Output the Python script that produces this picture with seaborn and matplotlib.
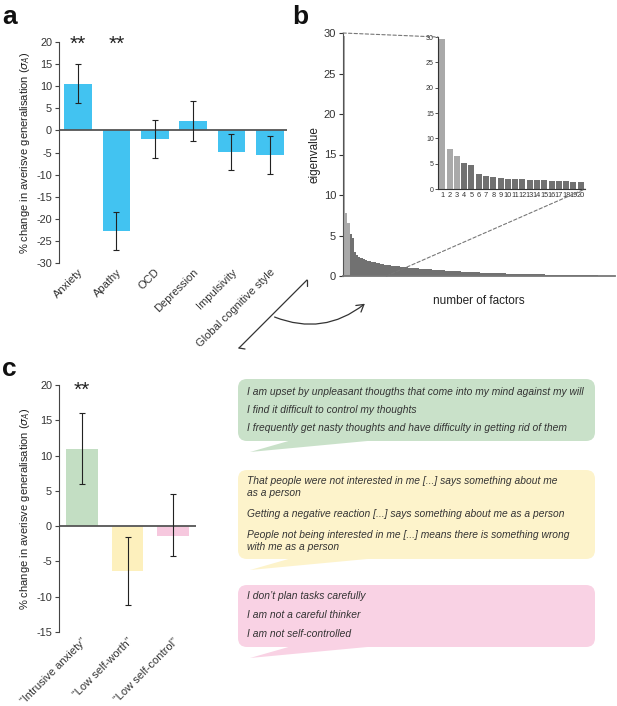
import seaborn as sns
import matplotlib.pyplot as plt
from matplotlib.patches import FancyBboxPatch, Polygon, FancyArrowPatch, ConnectionPatch
from matplotlib.lines import Line2D

# panel a: symptom dimensions
traits = ["Anxiety", "Apathy", "OCD", "Depression", "Impulsivity", "Global cognitive style"]
trait_change = [10.6, -22.8, -2.0, 2.1, -4.8, -5.6]
trait_err = [4.5, 4.25, 4.3, 4.5, 4.05, 4.3]
trait_stars = ["**", "**", "", "", "", ""]

# panel b: eigenvalues (first 20 shown in inset)
eig_top = [29.6, 7.8, 6.6, 5.2, 4.7, 3.0, 2.6, 2.35, 2.2, 2.05,
           1.95, 1.9, 1.8, 1.75, 1.68, 1.6, 1.58, 1.5, 1.45, 1.4]
eig_tail = [1.35, 1.32, 1.28, 1.25, 1.21, 1.18, 1.15, 1.12, 1.09, 1.06,
            1.03, 1.00, 0.98, 0.95, 0.93, 0.91, 0.89, 0.87, 0.85, 0.83,
            0.81, 0.79, 0.77, 0.75, 0.73, 0.71, 0.69, 0.67, 0.65, 0.63,
            0.61, 0.59, 0.58, 0.56, 0.55, 0.53, 0.52, 0.50, 0.49, 0.48,
            0.46, 0.45, 0.44, 0.43, 0.41, 0.40, 0.39, 0.38, 0.37, 0.36,
            0.35, 0.34, 0.33, 0.32, 0.31, 0.30, 0.30, 0.29, 0.28, 0.27,
            0.27, 0.26, 0.25, 0.25, 0.24, 0.23, 0.23, 0.22, 0.21, 0.21,
            0.20, 0.19, 0.19, 0.18, 0.17, 0.17, 0.16, 0.16, 0.15, 0.15,
            0.14, 0.13, 0.13, 0.12, 0.12, 0.11, 0.11, 0.10, 0.10, 0.09,
            0.09, 0.08, 0.08, 0.08, 0.07, 0.07, 0.07, 0.06, 0.06, 0.06,
            0.05, 0.05, 0.05, 0.04, 0.04]
eigenvalues = eig_top + eig_tail
n_light = 3

# panel c: transdiagnostic factors
factors = ["\u201cIntrusive anxiety\u201d", "\u201cLow self-worth\u201d", "\u201cLow self-control\u201d"]
factor_change = [11.0, -6.4, -1.4]
factor_err_low = [5.0, 4.8, 2.8]
factor_err_high = [5.0, 4.8, 6.0]
factor_stars = ["**", "", ""]
factor_colors = ["#c3dec3", "#fdf0bd", "#f6c8de"]
bubble_colors = ["#c9e1c9", "#fdf3cb", "#f9d2e4"]

items_anx = ["I am upset by unpleasant thougths that come into my mind against my will",
             "I find it difficult to control my thoughts",
             "I frequently get nasty thoughts and have difficulty in getting rid of them"]
items_worth = ["That people were not interested in me [...] says something about me\nas a person",
               "Getting a negative reaction [...] says something about me as a person",
               "People not being interested in me [...] means there is something wrong\nwith me as a person"]
items_ctrl = ["I don\u2019t plan tasks carefully",
              "I am not a careful thinker",
              "I am not self-controlled"]

sns.set_style("ticks")
plt.rcParams['font.family'] = ['Liberation Sans', 'DejaVu Sans']
plt.rcParams['axes.unicode_minus'] = False
plt.rcParams['text.color'] = '#222222'
plt.rcParams['axes.labelcolor'] = '#222222'
plt.rcParams['xtick.color'] = '#333333'
plt.rcParams['ytick.color'] = '#333333'

W, H = 617, 706
fig = plt.figure(figsize=(W / 100, H / 100), dpi=100)


def px(l, t, r, b):
    return [l / W, 1 - b / H, (r - l) / W, (b - t) / H]


def style_bar_axis(ax, ylim, yticks):
    ax.set_ylim(*ylim)
    ax.set_yticks(yticks)
    sns.despine(ax=ax, bottom=True)
    ax.spines['left'].set_color('#444444')
    ax.tick_params(axis='y', labelsize=7.8, length=3, width=0.8, color='#444444', pad=2)
    ax.tick_params(axis='x', labelsize=8, length=0, pad=3)
    ax.axhline(0, color='#555555', lw=1.3, zorder=1)
    ax.set_xlabel('')
    ax.set_ylabel(r"% change in averisve generalisation ($\sigma_A$)", fontsize=8, labelpad=3)
    for lab in ax.get_xticklabels():
        lab.set_rotation(45)
        lab.set_ha('right')
        lab.set_rotation_mode('anchor')


# ---- panel a
ax_a = fig.add_axes(px(59, 42, 287, 263))
sns.barplot(x=traits, y=trait_change, color='#42c3f1', saturation=1, width=0.72,
            linewidth=0, ax=ax_a)
ax_a.errorbar(range(len(traits)), trait_change, yerr=trait_err, fmt='none',
              ecolor='#222222', elinewidth=0.8, capsize=2.5, capthick=0.8)
ax_a.set_xlim(-0.5, len(traits) - 0.55)
style_bar_axis(ax_a, (-30, 20), range(-30, 21, 5))
for i, s in enumerate(trait_stars):
    ax_a.text(i, 19.5, s, ha='center', va='center', fontsize=15)

# ---- panel b
ax_b = fig.add_axes(px(343, 33, 615, 276))
idx = list(range(1, len(eigenvalues) + 1))
shade = ['light' if i <= n_light else 'dark' for i in idx]
pal = {'light': '#a9a9a9', 'dark': '#717171'}
sns.barplot(x=idx, y=eigenvalues, hue=shade, palette=pal, saturation=1, dodge=False,
            legend=False, width=1.0, linewidth=0, ax=ax_b)
ax_b.set_xlim(-0.5, len(eigenvalues) - 0.5)
ax_b.set_ylim(0, 30)
ax_b.set_yticks(range(0, 31, 5))
ax_b.set_xticks([])
sns.despine(ax=ax_b)
ax_b.spines['left'].set_color('#555555')
ax_b.spines['bottom'].set_color('#777777')
ax_b.spines['bottom'].set_linewidth(1.3)
ax_b.tick_params(axis='y', labelsize=8, length=3, width=0.8, pad=2)
ax_b.set_ylabel('eigenvalue', fontsize=8.5, labelpad=2)
ax_b.set_xlabel('number of factors', fontsize=8.5, labelpad=14)

ax_in = fig.add_axes(px(438, 37, 585, 189))
idx_in = idx[:len(eig_top)]
sns.barplot(x=idx_in, y=eig_top, hue=shade[:len(eig_top)], palette=pal, saturation=1,
            dodge=False, legend=False, width=0.82, linewidth=0, ax=ax_in)
ax_in.set_xlim(-0.6, len(eig_top) - 0.4)
ax_in.set_ylim(0, 30)
ax_in.set_yticks(range(0, 31, 5))
sns.despine(ax=ax_in)
ax_in.spines['left'].set_color('#333333')
ax_in.spines['bottom'].set_color('#333333')
ax_in.tick_params(axis='y', labelsize=5, length=2, width=0.6, pad=1)
ax_in.tick_params(axis='x', labelsize=5.3, length=0, pad=2)
ax_in.set_xlabel('')

for xyA, xyB in [((-0.5, 30), (0, 1)), ((len(eig_top) - 0.5, 0), (1, 0))]:
    con = ConnectionPatch(xyA=xyA, coordsA=ax_b.transData,
                          xyB=xyB, coordsB=ax_in.transAxes,
                          ls=(0, (3, 2)), color='#777777', lw=0.8)
    fig.add_artist(con)

# ---- panel c
ax_c = fig.add_axes(px(59, 385, 196, 632))
sns.barplot(x=factors, y=factor_change, hue=factors, palette=factor_colors, saturation=1,
            legend=False, width=0.7, linewidth=0, ax=ax_c)
ax_c.errorbar(range(len(factors)), factor_change, yerr=[factor_err_low, factor_err_high],
              fmt='none', ecolor='#222222', elinewidth=0.8, capsize=2.5, capthick=0.8)
ax_c.set_xlim(-0.5, len(factors) - 0.5)
style_bar_axis(ax_c, (-15, 20), range(-15, 21, 5))
for i, s in enumerate(factor_stars):
    ax_c.text(i, 19.2, s, ha='center', va='center', fontsize=15)

# ---- overlay: panel letters, arrow, speech bubbles
ov = fig.add_axes([0, 0, 1, 1])
ov.set_xlim(0, W)
ov.set_ylim(H, 0)
ov.axis('off')
ov.patch.set_alpha(0)

for lab, x, y in [('a', 2, 24), ('b', 292, 24), ('c', 2, 376)]:
    ov.text(x, y, lab, fontsize=19, fontweight='bold', color='#111111', va='baseline')

ov.add_line(Line2D([239, 307], [348, 280], color='#333333', lw=0.9))
ov.add_line(Line2D([239, 245], [348, 349], color='#333333', lw=0.9))
ov.add_line(Line2D([307, 307], [280, 286], color='#333333', lw=0.9))
ov.add_patch(FancyArrowPatch((272, 316), (367, 302), connectionstyle='arc3,rad=0.3',
                             arrowstyle='->,head_length=5,head_width=3', color='#333333', lw=0.9))

bubbles = [(items_anx, 379, 441, [392, 410, 428]),
           (items_worth, 470, 559, [487, 514, 541]),
           (items_ctrl, 585, 647, [596, 615, 634])]
for (items, top, bot, ys), col in zip(bubbles, bubble_colors):
    ov.add_patch(FancyBboxPatch((238, top), 357, bot - top,
                                boxstyle='round,pad=0,rounding_size=9', fc=col, ec='none'))
    ov.add_patch(Polygon([(292, bot - 1), (250, bot + 11), (378, bot - 1)],
                         closed=True, fc=col, ec='none'))
    for text, y in zip(items, ys):
        ov.text(247, y, text, fontsize=7.4, style='italic', color='#333333',
                va='center', linespacing=1.15)

fig.savefig('out.png', dpi=100)
